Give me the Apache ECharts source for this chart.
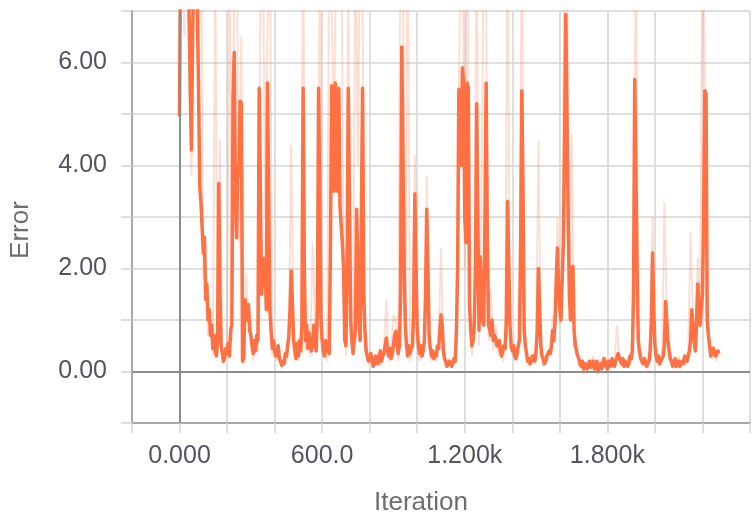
<!DOCTYPE html>
<html>
<head>
<meta charset="utf-8">
<title>Error vs Iteration</title>
<script src="https://cdn.jsdelivr.net/npm/echarts@6/dist/echarts.min.js"></script>
<style>
  html, body { margin: 0; padding: 0; background: #ffffff; }
  #chart { width: 753px; height: 521px; }
</style>
</head>
<body>
<div id="chart"></div>
<script>
// Smoothed error is logged every 5 iterations, raw error every 10, both from iteration 0.
const firstIteration = 0;
const smoothedInterval = 5;
const rawInterval = 10;

// Smoothed training error (bold curve), one row per 100 iterations.
const smoothedError = [
  4.95, 9.0, 9.0, 7.5, 8.6, 9.0, 9.0, 7.4, 7.0, 5.5, 4.3, 6.5, 7.8, 9.0, 9.0, 7.0, 5.5, 3.6, 3.3, 2.8,
  2.3, 2.6, 1.4, 1.7, 1.0, 1.2, 0.7, 0.9, 0.45, 0.7, 0.4, 0.3, 0.6, 3.65, 1.5, 0.5, 0.5, 0.2, 0.28, 0.45,
  0.35, 0.55, 0.3, 0.8, 0.9, 5.3, 6.2, 3.5, 2.6, 4.0, 3.8, 5.25, 5.2, 0.2, 0.25, 1.4, 1.4, 1.0, 1.3, 0.8,
  0.7, 0.5, 0.35, 0.6, 0.4, 0.7, 0.6, 5.5, 5.5, 1.5, 1.5, 2.2, 2.1, 1.2, 5.6, 5.6, 1.2, 0.8, 0.45, 0.6,
  0.4, 0.3, 0.3, 0.5, 0.25, 0.2, 0.12, 0.2, 0.15, 0.35, 0.3, 0.5, 0.7, 1.2, 1.95, 1.3, 0.6, 0.4, 0.25, 0.55,
  0.3, 0.6, 0.4, 0.9, 5.5, 2.0, 0.6, 0.9, 0.45, 0.75, 0.55, 0.4, 0.5, 0.9, 0.6, 0.4, 1.2, 5.5, 5.5, 1.0,
  0.6, 0.4, 0.3, 0.6, 0.4, 0.5, 0.35, 2.5, 5.55, 4.0, 3.5, 5.6, 5.6, 3.5, 5.5, 3.2, 3.2, 2.5, 2.0, 0.6,
  0.5, 2.0, 5.5, 5.5, 1.0, 0.6, 0.35, 0.6, 0.8, 3.15, 3.15, 1.0, 0.6, 3.0, 5.5, 1.5, 0.8, 0.4, 0.3, 0.2,
  0.2, 0.35, 0.22, 0.1, 0.15, 0.3, 0.25, 0.15, 0.3, 0.4, 0.2, 0.3, 0.35, 0.5, 0.65, 0.4, 0.3, 0.45, 0.25, 0.35,
  0.5, 0.7, 0.78, 0.5, 0.35, 0.5, 1.5, 6.3, 6.3, 2.0, 0.9, 0.5, 0.3, 0.5, 0.35, 0.45, 0.5, 1.2, 3.45, 2.0,
  0.8, 0.5, 0.35, 0.5, 0.3, 0.4, 0.6, 1.5, 3.15, 2.0, 0.7, 0.45, 0.3, 0.4, 0.25, 0.35, 0.3, 0.5, 0.45, 0.8,
  1.1, 0.9, 0.4, 0.25, 0.2, 0.1, 0.15, 0.2, 0.18, 0.1, 0.12, 0.25, 0.2, 0.8, 2.0, 5.48, 5.45, 4.0, 5.9, 5.6,
  3.0, 2.5, 5.6, 5.5, 1.3, 0.8, 0.5, 0.6, 0.9, 2.0, 5.2, 3.0, 0.8, 2.23, 2.2, 1.0, 0.9, 3.0, 5.6, 2.5,
  0.9, 0.8, 0.7, 1.0, 0.6, 0.7, 0.65, 0.5, 0.5, 0.6, 0.4, 0.3, 0.3, 0.5, 0.45, 1.0, 3.3, 3.3, 0.9, 0.5,
  0.4, 0.5, 0.3, 0.25, 0.35, 0.5, 0.6, 2.5, 5.45, 3.5, 0.8, 0.5, 0.35, 0.2, 0.25, 0.15, 0.2, 0.3, 0.3, 0.2,
  0.4, 0.8, 2.0, 2.0, 0.5, 0.3, 0.25, 0.15, 0.2, 0.3, 0.3, 0.4, 0.35, 0.5, 0.8, 0.6, 1.0, 1.8, 2.4, 1.5,
  1.2, 1.0, 1.8, 2.5, 4.5, 6.93, 6.9, 3.0, 1.5, 1.0, 2.0, 2.04, 0.8, 0.5, 0.4, 0.3, 0.25, 0.15, 0.1, 0.2,
  0.05, 0.15, 0.12, 0.05, 0.15, 0.2, 0.08, 0.12, 0.2, 0.05, 0.1, 0.2, 0.0, 0.1, 0.15, 0.05, 0.1, 0.25, 0.2, 0.1,
  0.05, 0.2, 0.15, 0.1, 0.25, 0.15, 0.1, 0.2, 0.2, 0.35, 0.35, 0.2, 0.15, 0.25, 0.1, 0.2, 0.2, 0.1, 0.15, 0.3,
  0.25, 0.4, 1.5, 5.67, 5.65, 2.0, 0.6, 0.4, 0.25, 0.2, 0.15, 0.25, 0.2, 0.1, 0.1, 0.2, 0.4, 1.0, 2.3, 1.2,
  0.5, 0.3, 0.2, 0.3, 0.15, 0.2, 0.25, 0.3, 0.5, 1.36, 1.35, 0.6, 0.4, 0.25, 0.2, 0.1, 0.15, 0.25, 0.1, 0.15,
  0.2, 0.1, 0.12, 0.2, 0.15, 0.3, 0.25, 0.2, 0.3, 0.4, 0.6, 1.2, 1.2, 0.6, 0.4, 0.9, 1.7, 1.69, 0.9, 1.2,
  1.5, 3.0, 5.45, 5.4, 1.0, 0.7, 0.5, 0.3, 0.35, 0.45, 0.4, 0.3, 0.3, 0.4, 0.35
];

// Raw (unsmoothed) training error, drawn faintly behind, one row per 100 iterations.
const rawError = [
  5.0, 12, 6.5, 12, 6.0, 3.8, 10, 12, 4.5, 10,
  1.8, 1.9, 0.7, 1.0, 0.3, 8.0, 0.4, 4.5, 0.3, 0.2,
  0.5, 9.0, 0.6, 7.5, 9.5, 2.5, 6.5, 0.15, 1.9, 0.9,
  1.0, 0.2, 0.6, 0.4, 7.0, 9.0, 3.0, 6.5, 9.0, 0.3,
  0.6, 0.2, 0.4, 0.05, 0.25, 0.2, 1.0, 4.4, 0.4, 0.35,
  0.2, 0.6, 9.0, 0.4, 0.7, 0.3, 2.5, 0.8, 1.5, 8.0,
  0.4, 0.5, 0.2, 9.0, 7.0, 4.5, 9.0, 8.0, 9.0, 2.5,
  0.3, 7.5, 0.6, 0.5, 9.0, 4.0, 9.0, 7.0, 0.5, 0.2,
  0.3, 0.1, 0.3, 0.2, 0.4, 0.1, 0.5, 1.4, 0.2, 0.4,
  1.1, 1.0, 0.2, 9.0, 8.0, 0.5, 9.0, 0.2, 0.7, 4.2,
  0.5, 0.2, 0.5, 0.4, 3.8, 0.5, 0.2, 0.4, 0.2, 0.6,
  2.4, 0.3, 0.1, 0.25, 0.1, 0.2, 0.15, 3.0, 7.5, 9.0,
  2.0, 9.0, 1.8, 0.3, 1.2, 9.0, 0.5, 3.0, 9.0, 7.0,
  0.6, 1.6, 0.4, 0.9, 0.3, 0.6, 0.2, 0.6, 9.0, 0.7,
  0.3, 0.5, 0.2, 0.8, 9.0, 0.6, 0.2, 0.1, 0.3, 0.2,
  0.6, 4.5, 0.3, 0.1, 0.3, 0.2, 0.5, 1.1, 0.7, 3.0,
  0.9, 2.4, 9.0, 8.5, 1.0, 4.6, 0.5, 0.6, 0.1, 0.2,
  -0.05, 0.2, 0.05, 0.15, 0.3, 0.0, -0.05, 0.25, 0.05, 0.3,
  -0.05, 0.25, 0.15, 0.2, 0.9, 0.25, 0.1, 0.2, 0.1, 0.25,
  0.15, 2.0, 9.0, 0.4, 0.3, 0.1, 0.3, 0.05, 0.6, 3.0,
  0.3, 0.3, 0.1, 0.35, 3.3, 1.0, 0.25, 0.1, 0.2, 0.05,
  0.3, 0.05, 0.25, 0.15, 0.4, 2.7, 0.9, 0.5, 2.2, 1.2,
  9.0, 6.0, 0.8, 0.6, 0.25, 0.5, 0.2, 0.4
];

// Labelled ticks on the iteration axis.
const xLabelValues = [0, 600, 1200, 1800];
const xLabelTexts = ['0.000', '600.0', '1.200k', '1.800k'];
// Labelled ticks on the error axis.
const yLabelValues = [0, 2, 4, 6];
const yLabelTexts = ['0.00', '2.00', '4.00', '6.00'];

const toPairs = (values, step) => values.map((v, i) => [firstIteration + i * step, v]);

const lineColor = '#ff7043';
const gridColor = '#d4d4d4';
const axisColor = '#a8a8a8';
const zeroColor = '#8c8c8c';
const labelFont = '"Liberation Sans", Arial, sans-serif';

const chart = echarts.init(document.getElementById('chart'), null, { renderer: 'canvas' });

chart.setOption({
  backgroundColor: '#ffffff',
  animation: false,
  grid: { left: 127, top: 11, width: 633, height: 412, containLabel: false },
  xAxis: {
    type: 'value',
    min: -200,
    max: 2400,
    interval: 200,
    name: 'Iteration',
    nameLocation: 'middle',
    nameGap: 67,
    nameTextStyle: {
      fontFamily: labelFont, fontSize: 26, color: '#6e6e6e',
      padding: [0, 40, 0, 0]
    },
    axisLine: { show: true, onZero: false, lineStyle: { color: axisColor, width: 2 } },
    axisTick: { show: true, length: 10, lineStyle: { color: gridColor, width: 1.5 } },
    axisLabel: {
      margin: 21,
      fontFamily: labelFont, fontSize: 25, color: '#535361',
      formatter: (v) => {
        const k = xLabelValues.indexOf(v);
        return k >= 0 ? xLabelTexts[k] : '';
      }
    },
    splitLine: { show: true, lineStyle: { color: gridColor, width: 1.5 } }
  },
  yAxis: {
    type: 'value',
    min: -1,
    max: 7,
    interval: 1,
    name: 'Error',
    nameLocation: 'middle',
    nameGap: 98,
    nameTextStyle: {
      fontFamily: labelFont, fontSize: 26, color: '#6e6e6e',
      padding: [0, 26, 0, 0]
    },
    axisLine: { show: true, onZero: false, lineStyle: { color: axisColor, width: 2 } },
    axisTick: { show: true, length: 11, lineStyle: { color: gridColor, width: 1.5 } },
    axisLabel: {
      margin: 25,
      fontFamily: labelFont, fontSize: 25, color: '#535361',
      formatter: (v) => {
        const k = yLabelValues.indexOf(v);
        return k >= 0 ? yLabelTexts[k] : '';
      }
    },
    splitLine: { show: true, lineStyle: { color: gridColor, width: 1.5 } }
  },
  series: [
    {
      name: 'raw',
      type: 'line',
      z: 1,
      data: toPairs(rawError, rawInterval),
      showSymbol: false,
      clip: true,
      lineStyle: { color: lineColor, width: 1.8, opacity: 0.25 },
      markLine: {
        silent: true,
        symbol: 'none',
        label: { show: false },
        lineStyle: { color: zeroColor, width: 2, type: 'solid', opacity: 1 },
        data: [{ xAxis: 0 }, { yAxis: 0 }]
      }
    },
    {
      name: 'smoothed',
      type: 'line',
      z: 2,
      data: toPairs(smoothedError, smoothedInterval),
      showSymbol: false,
      clip: true,
      lineStyle: { color: lineColor, width: 3.5, join: 'round' }
    }
  ]
});
</script>
</body>
</html>
